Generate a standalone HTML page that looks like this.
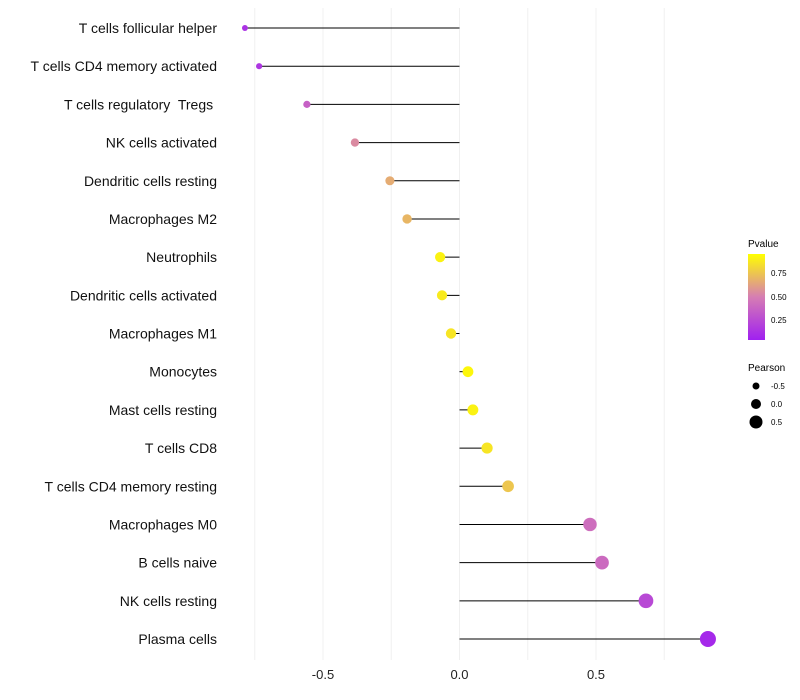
<!DOCTYPE html>
<html><head><meta charset="utf-8"><style>body{margin:0;background:#fff}svg{display:block;font-family:"Liberation Sans",sans-serif}text{white-space:pre}</style></head>
<body>
<svg id="chart" width="800" height="700">
<defs><linearGradient id="pg" x1="0" y1="1" x2="0" y2="0">
<stop offset="0" stop-color="#A020F0"/><stop offset="0.5" stop-color="#D67DB3"/><stop offset="1" stop-color="#FFFF00"/></linearGradient></defs>
<g id="grid"></g><g id="marks"></g><g id="labels"></g>
<g>
<text x="748" y="247" font-size="10">Pvalue</text>
<rect x="748" y="254" width="17" height="86" fill="url(#pg)"/>
<text x="771" y="276" font-size="8">0.75</text><text x="771" y="300" font-size="8">0.50</text><text x="771" y="323" font-size="8">0.25</text>
</g>
<g>
<text x="748" y="371" font-size="10">Pearson</text>
<circle cx="756" cy="386" r="3.5"/><text x="771" y="389" font-size="8">-0.5</text>
<circle cx="756" cy="404" r="5"/><text x="771" y="407" font-size="8">0.0</text>
<circle cx="756" cy="422" r="6.5"/><text x="771" y="425" font-size="8">0.5</text>
</g>
</svg>
<script>
const categories=["T cells follicular helper","T cells CD4 memory activated","T cells regulatory  Tregs ","NK cells activated","Dendritic cells resting","Macrophages M2","Neutrophils","Dendritic cells activated","Macrophages M1","Monocytes","Mast cells resting","T cells CD8","T cells CD4 memory resting","Macrophages M0","B cells naive","NK cells resting","Plasma cells"];
const pearson=[-0.786,-0.734,-0.559,-0.383,-0.255,-0.192,-0.071,-0.064,-0.031,0.031,0.049,0.101,0.178,0.478,0.522,0.683,0.910];
const pvalue=[0.1,0.12,0.35,0.55,0.68,0.72,0.95,0.92,0.9,0.97,0.95,0.9,0.78,0.42,0.4,0.22,0.05];
const ticks=[-0.5,0,0.5];
const tickLabels=["-0.5","0.0","0.5"];
const NS="http://www.w3.org/2000/svg";
const x=v=>459.5+v*273;
const y=i=>28+i*(611/16);
function col(p){const a=[160,32,240],m=[214,125,179],b=[255,255,0];let t,c0,c1;if(p<0.5){t=p/0.5;c0=a;c1=m}else{t=(p-0.5)/0.5;c0=m;c1=b}return`rgb(${c0.map((c,k)=>Math.round(c+(c1[k]-c)*t)).join(",")})`}
function mk(tag,at,par){const e=document.createElementNS(NS,tag);for(const k in at)e.setAttribute(k,at[k]);document.getElementById(par).appendChild(e);return e}
[-0.75,-0.5,-0.25,0,0.25,0.5,0.75].forEach(v=>{const l=mk("line",{x1:x(v),x2:x(v),y1:8,y2:660,stroke:"#f0f0f0","stroke-width":1},"grid");

});
ticks.forEach((v,i)=>{const t=mk("text",{x:x(v),y:679,"font-size":13,"text-anchor":"middle",fill:"#222"},"labels");t.textContent=tickLabels[i];

});
categories.forEach((c,i)=>{
const t=mk("text",{x:217,y:y(i)+5,"font-size":14,"text-anchor":"end",fill:"#111"},"labels");t.textContent=c;


const l=mk("line",{x1:x(0),x2:x(pearson[i]),y1:y(i),y2:y(i),stroke:"#000","stroke-width":1},"marks");


const p=mk("circle",{cx:x(pearson[i]),cy:y(i),r:5.3+3*pearson[i],fill:col(pvalue[i])},"marks");


});
</script>
</body></html>
